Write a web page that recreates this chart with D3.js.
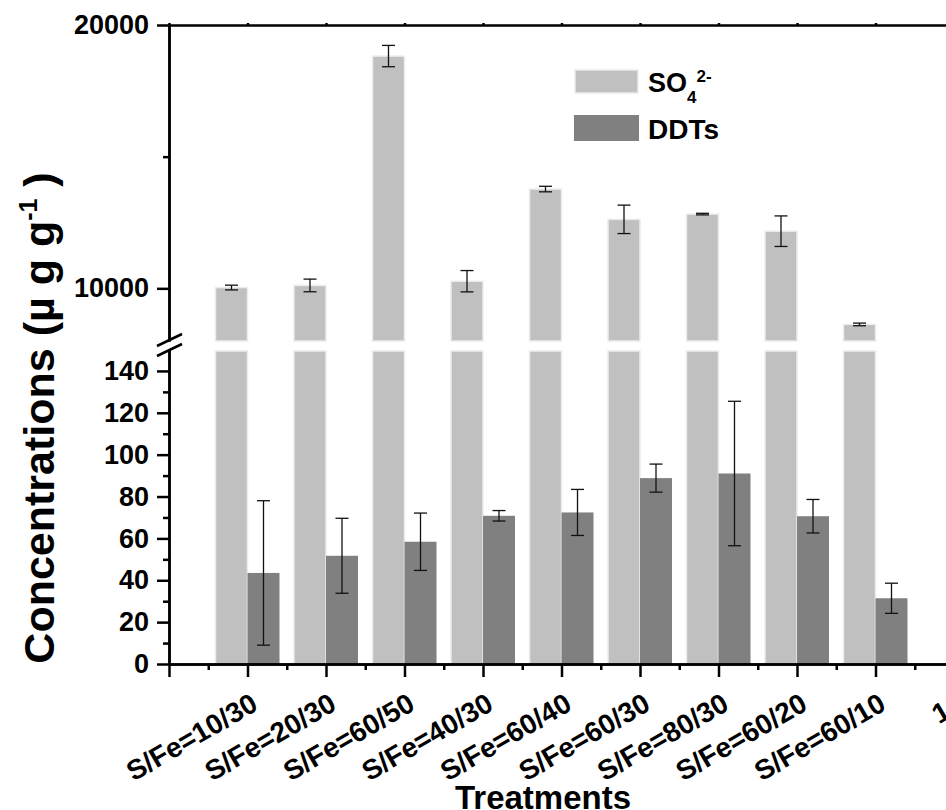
<!DOCTYPE html>
<html>
<head>
<meta charset="utf-8">
<script src="https://cdn.jsdelivr.net/npm/d3@7"></script>
<style>
  body { margin: 0; background: #fff; }
  svg { display: block; }
  text { font-family: "Liberation Sans", Arial, sans-serif; font-weight: bold; fill: #000; }
</style>
</head>
<body>
<div id="chart"></div>
<script>
const categories = ['S/Fe=10/30', 'S/Fe=20/30', 'S/Fe=60/50', 'S/Fe=40/30', 'S/Fe=60/40',
  'S/Fe=60/30', 'S/Fe=80/30', 'S/Fe=60/20', 'S/Fe=60/10'];
const so4Values = [10030, 10110, 18820, 10270, 13770, 12620, 12820, 12170, 8630];
const so4Errors = [90, 240, 405, 405, 105, 540, 30, 580, 50];
const ddtValues = [43.5, 51.7, 58.4, 70.8, 72.4, 88.8, 91.0, 70.6, 31.4];
const ddtErrors = [34.5, 17.9, 13.7, 2.5, 11, 6.7, 34.5, 8, 7.2];
const lowTicks = [0, 20, 40, 60, 80, 100, 120, 140];
const lowMinor = [10, 30, 50, 70, 90, 110, 130];
const highTicks = [10000, 20000];
const highMinor = [15000];

const w = 946, h = 810;
const so4Color = '#c0c0c0', ddtColor = '#808080';
const barW = 32;

const svg = d3.select('#chart').append('svg').attr('width', w).attr('height', h);

const x = d3.scaleLinear().domain([0, 10]).range([169, 954]);
const yLow = d3.scaleLinear().domain([0, 150]).range([664, 350]);
const yHigh = d3.scaleLinear().domain([8000, 20000]).range([341, 25]);

const rows = categories.map((c, i) => ({ c, pos: i + 1, so4: so4Values[i], so4e: so4Errors[i], ddt: ddtValues[i], ddte: ddtErrors[i] }));

// bars
const ink = svg.append('g').classed('ink', true);

ink.selectAll('rect.so4-low')
  .data(rows)
  .enter()
  .append('rect')
  .attr('class', 'so4-low')
  .attr('x', d => x(d.pos) - barW)
  .attr('y', yLow(150) + 1)
  .attr('width', barW)
  .attr('height', yLow(0) - yLow(150) - 1)
  .attr('fill', so4Color)
  .attr('stroke', '#ececec')
  .attr('stroke-width', 1.5);

ink.selectAll('rect.so4-high')
  .data(rows)
  .enter()
  .append('rect')
  .attr('class', 'so4-high')
  .attr('x', d => x(d.pos) - barW)
  .attr('y', d => yHigh(d.so4))
  .attr('width', barW)
  .attr('height', d => yHigh(8000) - yHigh(d.so4))
  .attr('fill', so4Color)
  .attr('stroke', '#ececec')
  .attr('stroke-width', 1.5);

ink.selectAll('rect.ddt')
  .data(rows)
  .enter()
  .append('rect')
  .attr('class', 'ddt')
  .attr('x', d => x(d.pos))
  .attr('y', d => yLow(d.ddt))
  .attr('width', barW)
  .attr('height', d => yLow(0) - yLow(d.ddt))
  .attr('fill', ddtColor);

// error bars
const errBar = (sel, cx, yTop, yBot) => {
  const g = sel.append('g').attr('stroke', '#111').attr('stroke-width', 1.3);
  g.append('line').attr('x1', cx).attr('x2', cx).attr('y1', yTop).attr('y2', yBot);
  g.append('line').attr('x1', cx - 6.5).attr('x2', cx + 6.5).attr('y1', yTop).attr('y2', yTop);
  g.append('line').attr('x1', cx - 6.5).attr('x2', cx + 6.5).attr('y1', yBot).attr('y2', yBot);
};
rows.forEach(d => {
  errBar(ink, x(d.pos) - barW / 2, yHigh(d.so4 + d.so4e), yHigh(d.so4 - d.so4e));
  errBar(ink, x(d.pos) + barW / 2, yLow(d.ddt + d.ddte), yLow(d.ddt - d.ddte));
});

// axes
const styleAxis = g => {
  g.select('.domain').attr('stroke', '#000').attr('stroke-width', 2.5);
  g.selectAll('.tick line').attr('stroke', '#000').attr('stroke-width', 2.5);
  g.selectAll('.tick text').style('font-size', '27px');
};

svg.append('g')
  .attr('transform', `translate(${x(0)},0)`)
  .call(d3.axisLeft(yLow).tickValues(lowTicks).tickSize(12).tickSizeOuter(0).tickPadding(8))
  .call(styleAxis);
svg.append('g')
  .attr('transform', `translate(${x(0)},0)`)
  .call(d3.axisLeft(yLow).tickValues(lowMinor).tickSize(6).tickSizeOuter(0).tickFormat(''))
  .call(styleAxis);
svg.append('g')
  .attr('transform', `translate(${x(0)},0)`)
  .call(d3.axisLeft(yHigh).tickValues(highTicks).tickSize(12).tickSizeOuter(0).tickPadding(8).tickFormat(d3.format('d')))
  .call(styleAxis);
svg.append('g')
  .attr('transform', `translate(${x(0)},0)`)
  .call(d3.axisLeft(yHigh).tickValues(highMinor).tickSize(6).tickSizeOuter(0).tickFormat(''))
  .call(styleAxis);

// axis break marks
[yHigh(8000) - 1, yLow(150)].forEach(yb => {
  svg.append('line')
    .attr('x1', x(0) - 12).attr('y1', yb + 6)
    .attr('x2', x(0) + 13).attr('y2', yb - 6)
    .attr('stroke', '#000').attr('stroke-width', 2.5);
});

// bottom axis
const xLabel = v => (v >= 1 && v <= 9 ? categories[v - 1] : v === 10 ? '10' : '');
svg.append('g')
  .attr('transform', `translate(0,${yLow(0)})`)
  .call(d3.axisBottom(x).tickValues(d3.range(0, 11)).tickSize(13).tickSizeOuter(0).tickFormat(''))
  .call(styleAxis);
svg.append('g')
  .attr('transform', `translate(0,${yLow(0)})`)
  .call(d3.axisBottom(x).tickValues(d3.range(0.5, 10, 1)).tickSize(6).tickSizeOuter(0).tickFormat(''))
  .call(styleAxis);

svg.append('g')
  .selectAll('text')
  .data(d3.range(1, 11))
  .enter()
  .append('text')
  .attr('text-anchor', 'end')
  .attr('transform', d => `translate(${x(d) + 12},${yLow(0) + 45}) rotate(-30)`)
  .style('font-size', '28px')
  .text(xLabel);

// top axis
svg.append('g')
  .attr('transform', `translate(0,${yHigh(20000)})`)
  .call(d3.axisTop(x).tickValues(d3.range(0, 11)).tickSize(2).tickSizeOuter(0).tickFormat(''))
  .call(styleAxis);

// titles
svg.append('text')
  .attr('x', 543)
  .attr('y', 809)
  .attr('text-anchor', 'middle')
  .style('font-size', '33px')
  .text('Treatments');

const yTitle = svg.append('text')
  .attr('transform', 'translate(54,418) rotate(-90)')
  .attr('text-anchor', 'middle')
  .style('font-size', '43px');
yTitle.append('tspan').text('Concentrations (\u00b5 g g');
yTitle.append('tspan').attr('dy', -17).style('font-size', '25px').text('-1');
yTitle.append('tspan').attr('dy', 17).text(' )');

// legend
const legend = svg.append('g');
legend.append('rect').attr('x', 575).attr('y', 70).attr('width', 63).attr('height', 23)
  .attr('fill', so4Color).attr('stroke', '#ececec').attr('stroke-width', 1.5);
legend.append('rect').attr('x', 574).attr('y', 115).attr('width', 65).attr('height', 26)
  .attr('fill', ddtColor);
const so4Label = legend.append('text').attr('x', 648).attr('y', 92).style('font-size', '27px');
so4Label.append('tspan').text('SO');
so4Label.append('tspan').attr('dy', 11).style('font-size', '17px').text('4');
so4Label.append('tspan').attr('dy', -21).style('font-size', '17px').text('2-');
legend.append('text').attr('x', 648).attr('y', 139).style('font-size', '28px').text('DDTs');
</script>
</body>
</html>
